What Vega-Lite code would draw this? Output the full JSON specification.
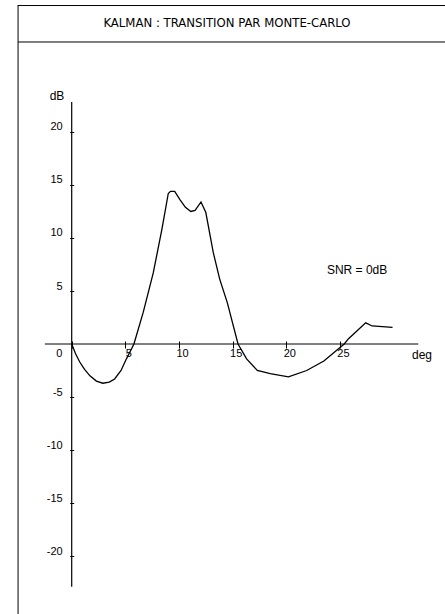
{
  "$schema": "https://vega.github.io/schema/vega-lite/v6.json",
  "width": 427,
  "height": 609,
  "autosize": {"type": "none"},
  "padding": {"left": 18, "top": 5, "right": 0, "bottom": 0},
  "background": "white",
  "config": {"view": {"stroke": null}},
  "data": {
    "values": [
      {"deg": 0, "dB": 0},
      {"deg": 0.35, "dB": -0.9},
      {"deg": 0.75, "dB": -1.7},
      {"deg": 1.2, "dB": -2.4},
      {"deg": 1.7, "dB": -3.0},
      {"deg": 2.3, "dB": -3.5},
      {"deg": 2.9, "dB": -3.7},
      {"deg": 3.5, "dB": -3.6},
      {"deg": 4.0, "dB": -3.3},
      {"deg": 4.6, "dB": -2.5},
      {"deg": 5.1, "dB": -1.4},
      {"deg": 5.8, "dB": 0},
      {"deg": 6.67, "dB": 3.0},
      {"deg": 7.6, "dB": 6.7},
      {"deg": 8.4, "dB": 10.8},
      {"deg": 9.0, "dB": 14.2},
      {"deg": 9.2, "dB": 14.4},
      {"deg": 9.6, "dB": 14.4},
      {"deg": 10.1, "dB": 13.6},
      {"deg": 10.6, "dB": 12.9},
      {"deg": 11.1, "dB": 12.5},
      {"deg": 11.5, "dB": 12.6},
      {"deg": 12.05, "dB": 13.4},
      {"deg": 12.5, "dB": 12.4},
      {"deg": 13.2, "dB": 8.6},
      {"deg": 13.8, "dB": 6.1},
      {"deg": 14.5, "dB": 3.9},
      {"deg": 15.5, "dB": 0},
      {"deg": 16.3, "dB": -1.4},
      {"deg": 17.3, "dB": -2.5},
      {"deg": 18.5, "dB": -2.8},
      {"deg": 20.2, "dB": -3.1},
      {"deg": 21.9, "dB": -2.5},
      {"deg": 23.5, "dB": -1.6},
      {"deg": 24.7, "dB": -0.6},
      {"deg": 25.4, "dB": 0},
      {"deg": 25.8, "dB": 0.5},
      {"deg": 26.6, "dB": 1.25},
      {"deg": 27.4, "dB": 2.0},
      {"deg": 28.0, "dB": 1.7},
      {"deg": 29.9, "dB": 1.56}
    ]
  },
  "layer": [
    {
      "mark": {"type": "line", "color": "black", "strokeWidth": 1.3, "interpolate": "linear"},
      "encoding": {
        "x": {
          "field": "deg", "type": "quantitative",
          "scale": {"domain": [-5.005, 34.79], "nice": false, "zero": false},
          "axis": {
            "orient": "bottom", "offset": -273, "domain": false, "grid": false, "title": null,
            "values": [0, 5, 10, 15, 20, 25],
            "tickSize": 7, "tickColor": "black", "tickWidth": 1,
            "labelFont": "Liberation Sans, sans-serif", "labelFontSize": 11, "labelColor": "black",
            "labelBaseline": "middle", "labelPadding": 5,
            "labelOffset": {"condition": {"test": "datum.value === 0", "value": -13}, "value": 3},
            "labelFlush": false
          }
        },
        "y": {
          "field": "dB", "type": "quantitative",
          "scale": {"domain": [-25.47, 31.98], "nice": false, "zero": false},
          "axis": {
            "orient": "left", "offset": -55.7, "domain": false, "grid": false, "title": null,
            "values": [-20, -15, -10, -5, 5, 10, 15, 20],
            "tickSize": 4, "tickColor": "black", "tickWidth": 1,
            "labelFont": "Liberation Sans, sans-serif", "labelFontSize": 11, "labelColor": "black",
            "labelPadding": 7.5, "labelOffset": -5,
            "labelExpr": "replace(datum.label, '−', '-')",
            "labelFlush": false
          }
        }
      }
    },
    {
      "data": {"values": [{}]},
      "mark": {"type": "rule", "color": "black", "strokeWidth": 1},
      "encoding": {
        "x": {"datum": -5.0, "type": "quantitative"},
        "y": {"datum": 31.98, "type": "quantitative"},
        "y2": {"datum": -25.47}
      }
    },
    {
      "data": {"values": [{"yy": 31.93}, {"yy": 28.49}]},
      "mark": {"type": "rule", "color": "black", "strokeWidth": 1},
      "encoding": {
        "x": {"datum": -5.0, "type": "quantitative"},
        "x2": {"datum": 34.79},
        "y": {"field": "yy", "type": "quantitative"}
      }
    },
    {
      "data": {"values": [{}]},
      "mark": {"type": "rule", "color": "black", "strokeWidth": 1},
      "encoding": {
        "x": {"datum": -2.5, "type": "quantitative"},
        "x2": {"datum": 32.3},
        "y": {"datum": 0, "type": "quantitative"}
      }
    },
    {
      "data": {"values": [{}]},
      "mark": {"type": "rule", "color": "black", "strokeWidth": 1.2},
      "encoding": {
        "x": {"datum": 0, "type": "quantitative"},
        "y": {"datum": 22.83, "type": "quantitative"},
        "y2": {"datum": -22.9}
      }
    },
    {
      "data": {"values": [{"t": "dB", "px": -1.37, "py": 23.4, "a": "center"}, {"t": "deg", "px": 32.65, "py": -1.04, "a": "center"}, {"t": "SNR = 0dB", "px": 26.6, "py": 6.98, "a": "left"}]},
      "mark": {"type": "text", "color": "black", "font": "Liberation Sans, sans-serif", "fontSize": 12, "baseline": "middle"},
      "encoding": {
        "x": {"field": "px", "type": "quantitative"},
        "y": {"field": "py", "type": "quantitative"},
        "text": {"field": "t"},
        "align": {"field": "a", "type": "nominal", "scale": null}
      }
    },
    {
      "data": {"values": [{"t": "KALMAN : TRANSITION PAR MONTE-CARLO", "px": 14.47, "py": 30.28}]},
      "mark": {"type": "text", "color": "black", "font": "Liberation Sans Narrow, DejaVu Sans Condensed, Liberation Sans, sans-serif", "fontSize": 13, "baseline": "middle", "align": "center"},
      "encoding": {
        "x": {"field": "px", "type": "quantitative"},
        "y": {"field": "py", "type": "quantitative"},
        "text": {"field": "t"}
      }
    }
  ]
}
